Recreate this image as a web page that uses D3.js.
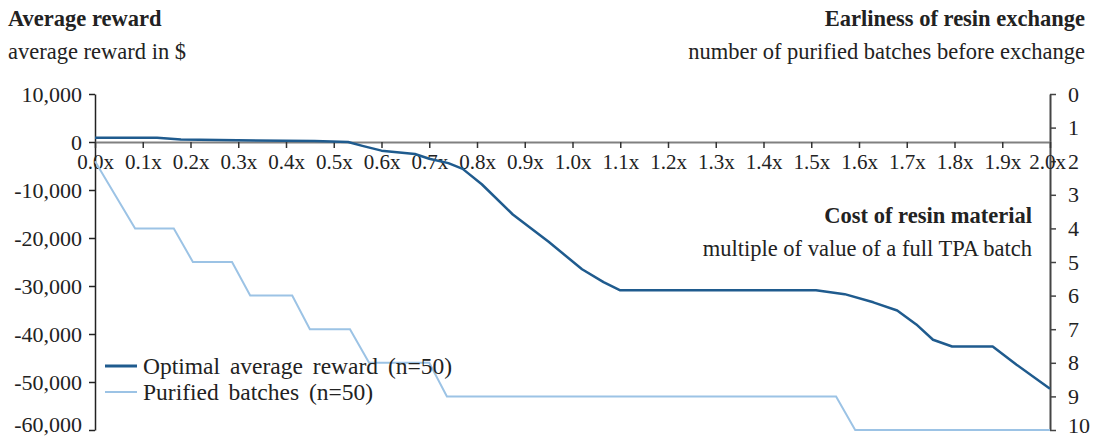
<!DOCTYPE html>
<html><head><meta charset="utf-8">
<script src="https://cdn.jsdelivr.net/npm/d3@7"></script>
<style>
html,body{margin:0;padding:0;background:#fff;}
svg text{font-family:"Liberation Serif","Times New Roman",serif;fill:#222;}
</style></head>
<body>
<svg id="c" width="1097" height="441"></svg>
<script>
// ---- data ----
const xTickValues = d3.range(0, 21).map(i => i / 10);
const xTickLabels = xTickValues.map(v => v.toFixed(1) + "x");
const leftTicks = [10000, 0, -10000, -20000, -30000, -40000, -50000, -60000];
const rightTicks = [0,1,2,3,4,5,6,7,8,9,10];

const rewardCost = [0.0, 0.13, 0.18, 0.46, 0.53, 0.56, 0.60, 0.67, 0.70, 0.74, 0.77, 0.81, 0.875, 0.95, 1.02, 1.065, 1.10, 1.51, 1.57, 1.63, 1.68, 1.72, 1.755, 1.795, 1.88, 1.93, 2.0];
const rewardValue = [900, 900, 500, 200, 0, -800, -1800, -2500, -3500, -4400, -5600, -8800, -15100, -20800, -26500, -29200, -30900, -30900, -31700, -33400, -35100, -38000, -41200, -42600, -42600, -46400, -51400];

const batchCost = [0.0, 0.084, 0.165, 0.205, 0.287, 0.325, 0.413, 0.45, 0.534, 0.574, 0.70, 0.737, 1.552, 1.592, 2.0];
const batchValue = [2, 4, 4, 5, 5, 6, 6, 7, 7, 8, 8, 9, 9, 10, 10];

const seriesNames = ["Optimal average reward (n=50)", "Purified batches (n=50)"];
const colors = ["#1f5b8e", "#9cc3e5"];

// ---- layout ----
const svg = d3.select("#c");
const X0 = 95, X1 = 1050, YT = 94, YB = 430;
const x = d3.scaleLinear().domain([0, 2]).range([X0, X1]);
const yL = d3.scaleLinear().domain([-60000, 10000]).range([YB, YT]);
const yR = d3.scaleLinear().domain([0, 10]).range([YT, YB]);
const FS = 22.5;
const TFS = 21;

// titles
svg.append("text").attr("x", 8).attr("y", 26).attr("font-size", FS).attr("font-weight", "bold").text("Average reward");
svg.append("text").attr("x", 8).attr("y", 59).attr("font-size", FS).text("average reward in $");
svg.append("text").attr("x", 1085).attr("y", 26).attr("font-size", FS).attr("font-weight", "bold").attr("text-anchor", "end").text("Earliness of resin exchange");
svg.append("text").attr("x", 1085).attr("y", 59).attr("font-size", FS).attr("text-anchor", "end").text("number of purified batches before exchange");
svg.append("text").attr("x", 1032).attr("y", 223).attr("font-size", FS).attr("font-weight", "bold").attr("text-anchor", "end").text("Cost of resin material");
svg.append("text").attr("x", 1032).attr("y", 256).attr("font-size", FS).attr("text-anchor", "end").text("multiple of value of a full TPA batch");

// left axis
const fmt = d3.format(",");
const gL = svg.append("g").attr("transform", `translate(${X0},0)`)
  .call(d3.axisLeft(yL).tickValues(leftTicks).tickFormat(d => fmt(d).replace("\u2212", "-")).tickSize(6).tickSizeOuter(0).tickPadding(7));
gL.select(".domain").attr("stroke", "#222").attr("stroke-width", 1.5);
gL.selectAll(".tick line").attr("stroke", "#222").attr("stroke-width", 1.5);
gL.selectAll(".tick text").attr("font-size", 22).attr("font-family", "Liberation Serif").attr("fill", "#222");
gL.selectAll(".tick text").filter(d => d === leftTicks[leftTicks.length - 1]).attr("dy", "0.05em");

// right axis
const gR = svg.append("g").attr("transform", `translate(${X1},0)`)
  .call(d3.axisRight(yR).tickValues(rightTicks).tickSize(6).tickSizeOuter(0).tickPadding(12));
gR.select(".domain").attr("stroke", "#444").attr("stroke-width", 2);
gR.selectAll(".tick line").attr("stroke", "#444").attr("stroke-width", 1.5);
gR.selectAll(".tick text").attr("font-size", 22).attr("font-family", "Liberation Serif").attr("fill", "#222");
gR.selectAll(".tick text").filter(d => d === rightTicks[rightTicks.length - 1]).attr("dy", "0.12em");

// x axis at zero
const gX = svg.append("g").attr("transform", `translate(0,${yL(0)})`)
  .call(d3.axisBottom(x).tickValues(xTickValues).tickFormat((d, i) => xTickLabels[i]).tickSize(6).tickSizeOuter(0).tickPadding(6));
gX.select(".domain").attr("stroke", "#808080").attr("stroke-width", 2);
gX.selectAll(".tick line").attr("stroke", "#333").attr("stroke-width", 1.5);
gX.selectAll(".tick text").attr("font-size", TFS).attr("font-family", "Liberation Serif").attr("fill", "#222");
gX.selectAll(".tick text").filter((d, i) => i === xTickValues.length - 1).attr("dx", -3);

// lines
const batchData = batchCost.map((c, i) => [c, batchValue[i]]);
const rewardData = rewardCost.map((c, i) => [c, rewardValue[i]]);
svg.append("path").datum(batchData)
  .attr("d", d3.line().x(d => x(d[0])).y(d => yR(d[1])))
  .attr("fill", "none").attr("stroke", colors[1]).attr("stroke-width", 2);
svg.append("path").datum(rewardData)
  .attr("d", d3.line().x(d => x(d[0])).y(d => yL(d[1])))
  .attr("fill", "none").attr("stroke", colors[0]).attr("stroke-width", 2.5).attr("stroke-linejoin", "round");

// legend
const leg = svg.append("g");
seriesNames.forEach((name, i) => {
  const ly = 366 + i * 26;
  leg.append("line").attr("x1", 105).attr("x2", 137).attr("y1", ly).attr("y2", ly)
    .attr("stroke", colors[i]).attr("stroke-width", i === 0 ? 3 : 2);
  leg.append("text").attr("x", 143).attr("y", ly + 8).attr("font-size", 23.5)
    .attr("word-spacing", 4).text(name);
});
</script>
</body></html>
